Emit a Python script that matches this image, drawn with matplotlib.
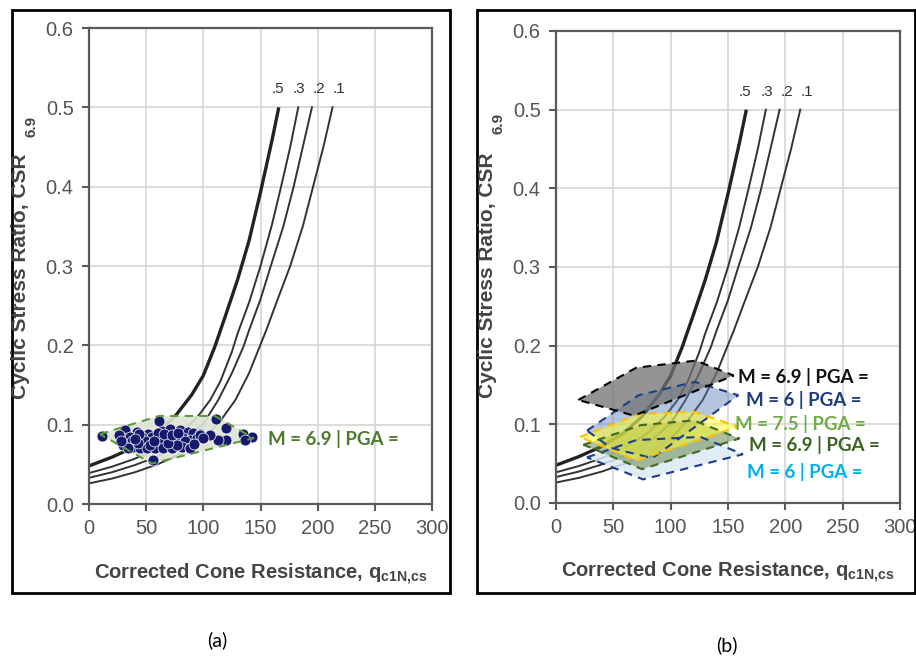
import matplotlib
matplotlib.use("Agg")
import matplotlib.pyplot as plt
from matplotlib.patches import Polygon, Rectangle

plt.rcParams['font.family'] = ['Liberation Sans', 'DejaVu Sans']
plt.rcParams['mathtext.fontset'] = 'custom'
plt.rcParams['mathtext.rm'] = 'Liberation Sans'
plt.rcParams['mathtext.bf'] = 'Liberation Sans:bold'

W, H = 916, 658

# ---------------- data ----------------
x_ticks = [0, 50, 100, 150, 200, 250, 300]
y_ticks = [0.0, 0.1, 0.2, 0.3, 0.4, 0.5, 0.6]
y_tick_labels = ['0.0', '0.1', '0.2', '0.3', '0.4', '0.5', '0.6']

curve_labels = ['.5', '.3', '.2', '.1']
q_p50 = [0, 20, 40, 60, 75, 90, 100, 110, 120, 130, 140, 150, 160, 166]
csr_p50 = [0.048, 0.059, 0.072, 0.090, 0.110, 0.138, 0.162, 0.198, 0.240, 0.283, 0.332, 0.393, 0.458, 0.500]
q_p30 = [0, 20, 40, 60, 80, 95, 106, 115, 125, 130, 140, 150, 160, 168, 176, 183]
csr_p30 = [0.039, 0.047, 0.057, 0.070, 0.089, 0.110, 0.131, 0.155, 0.192, 0.215, 0.254, 0.300, 0.352, 0.400, 0.450, 0.500]
q_p20 = [0, 20, 40, 60, 80, 100, 113, 125, 135, 140, 150, 159, 170, 179, 187, 195]
csr_p20 = [0.033, 0.040, 0.049, 0.060, 0.076, 0.101, 0.131, 0.165, 0.198, 0.219, 0.258, 0.300, 0.350, 0.400, 0.450, 0.500]
q_p10 = [0, 20, 40, 60, 80, 100, 115, 128, 140, 155, 165, 176, 187, 196, 205, 213]
csr_p10 = [0.026, 0.032, 0.040, 0.050, 0.063, 0.082, 0.105, 0.131, 0.165, 0.219, 0.258, 0.300, 0.350, 0.400, 0.450, 0.500]
curve_label_q = [165, 184, 201, 219]
curve_label_csr = 0.514

# scatter (panel a)
scatter_q = [31.5, 41.7, 51.9, 63.6, 70.9, 79.6, 86.9, 91.3, 97.1,
             30.0, 35.9, 46.1, 54.8, 60.7, 68.0, 75.3, 82.5, 88.4, 94.2, 37.3, 49.0, 62.1, 76.7, 84.0,
             30.0, 38.8, 44.6, 50.5, 57.7, 65.0, 72.3, 81.1, 88.4, 34.4, 76.7, 69.4, 53.4, 43.2,
             11.0, 61.0, 111.0, 120.0, 135.0, 143.0, 136.5, 120.0, 113.0, 106.0, 97.0, 88.0, 56.0,
             60.0, 66.0, 73.0, 78.0, 44.0, 26.0, 28.0, 100.0, 92.0, 57.0, 40.0]
scatter_csr = [0.093, 0.091, 0.088, 0.092, 0.095, 0.093, 0.091, 0.089, 0.088,
               0.083, 0.085, 0.085, 0.085, 0.083, 0.085, 0.083, 0.083, 0.081, 0.083, 0.079, 0.079, 0.079, 0.081, 0.079,
               0.074, 0.072, 0.070, 0.070, 0.070, 0.070, 0.071, 0.072, 0.070, 0.070, 0.074, 0.077, 0.075, 0.077,
               0.086, 0.105, 0.107, 0.096, 0.088, 0.084, 0.081, 0.081, 0.081, 0.087, 0.087, 0.070, 0.056,
               0.090, 0.088, 0.087, 0.089, 0.088, 0.087, 0.079, 0.083, 0.076, 0.080, 0.082]

poly_a_q = [9.6, 61, 110, 144, 55]
poly_a_csr = [0.088, 0.111, 0.111, 0.083, 0.051]
label_a = 'M = 6.9 | PGA ='

# polygons (panel b)
poly_gray_q = [19.5, 70, 122, 155, 68]
poly_gray_csr = [0.131, 0.172, 0.181, 0.162, 0.111]
poly_navy_q = [27, 72, 121, 159, 84, 48]
poly_navy_csr = [0.092, 0.137, 0.154, 0.137, 0.057, 0.070]
poly_yellow_q = [21, 73, 120, 159, 70]
poly_yellow_csr = [0.084, 0.113, 0.116, 0.097, 0.054]
poly_green_q = [24, 74, 120, 160, 75]
poly_green_csr = [0.074, 0.099, 0.105, 0.082, 0.043]
poly_lblue_q = [27, 70, 126, 163, 76]
poly_lblue_csr = [0.058, 0.080, 0.084, 0.062, 0.030]

labels_b = ['M = 6.9 | PGA =', 'M = 6 | PGA =', 'M = 7.5 | PGA =', 'M = 6.9 | PGA =', 'M = 6 | PGA =']
labels_b_q = [158.5, 165.5, 156, 168, 166.5]
labels_b_csr = [0.160, 0.131, 0.100, 0.074, 0.039]
labels_b_colors = ['#111111', '#1F3C80', '#70AD47', '#3E6424', '#00B0F0']

# ---------------- figure ----------------
fig = plt.figure(figsize=(W / 100, H / 100), dpi=100)


def fx(x):
    return x / W


def fy(y):
    return 1 - y / H


def make_axes(l, r, t, b):
    ax = fig.add_axes([fx(l), fy(b), fx(r) - fx(l), fy(t) - fy(b)])
    ax.set_xlim(0, 300)
    ax.set_ylim(0, 0.6)
    ax.set_xticks(x_ticks)
    ax.set_yticks(y_ticks)
    ax.set_yticklabels(y_tick_labels)
    ax.grid(True, color='#d2d2d2', linewidth=1.1)
    ax.set_axisbelow(True)
    for s in ax.spines.values():
        s.set_color('#5a5a5a')
        s.set_linewidth(1.6)
    ax.tick_params(axis='both', direction='out', length=5, width=1.5, color='#5a5a5a',
                   labelsize=14.5, labelcolor='#555555', pad=6)
    # curves
    ax.plot(q_p50, csr_p50, color='#222222', lw=2.4, zorder=2, solid_capstyle='butt')
    ax.plot(q_p30, csr_p30, color='#333333', lw=1.4, zorder=2)
    ax.plot(q_p20, csr_p20, color='#333333', lw=1.4, zorder=2)
    ax.plot(q_p10, csr_p10, color='#333333', lw=1.4, zorder=2)
    for lab, q in zip(curve_labels, curve_label_q):
        ax.text(q, curve_label_csr, lab, ha='center', va='bottom', fontsize=11, color='#333333')
    return ax


axA = make_axes(89, 432, 28, 504)
axB = make_axes(556, 900, 31, 503)

# panel a polygon + scatter
axA.add_patch(Polygon(list(zip(poly_a_q, poly_a_csr)), closed=True, facecolor='#dde4d3',
                      edgecolor='none', alpha=0.9, zorder=3))
axA.add_patch(Polygon(list(zip(poly_a_q, poly_a_csr)), closed=True, facecolor='none',
                      edgecolor='#5f9a3c', lw=1.5, linestyle=(0, (4, 3)), zorder=5))
axA.scatter(scatter_q, scatter_csr, s=62, color='#14196b', edgecolor='white', linewidth=0.5, zorder=4)
axA.text(156.5, 0.082, label_a, ha='left', va='center', fontsize=13.5, fontweight='bold',
         color='#4E7A2E', family=['Lato', 'DejaVu Sans'], zorder=6)

# panel b polygons
polys = [
    (poly_lblue_q, poly_lblue_csr, '#dce9f6', 0.85, '#1F3C88'),
    (poly_navy_q, poly_navy_csr, '#5d7fb9', 0.45, '#1F3C88'),
    (poly_green_q, poly_green_csr, '#6d8a4d', 0.55, '#3D6B21'),
    (poly_yellow_q, poly_yellow_csr, '#ffff30', 0.55, '#FFC000'),
    (poly_gray_q, poly_gray_csr, '#707070', 0.75, '#000000'),
]
for q, c, fc, a, ec in polys:
    axB.add_patch(Polygon(list(zip(q, c)), closed=True, facecolor=fc, edgecolor='none', alpha=a, zorder=3))
for q, c, fc, a, ec in polys:
    axB.add_patch(Polygon(list(zip(q, c)), closed=True, facecolor='none', edgecolor=ec, lw=1.5,
                          linestyle=(0, (4, 3)), zorder=5))
for lab, q, c, col in zip(labels_b, labels_b_q, labels_b_csr, labels_b_colors):
    axB.text(q, c, lab, ha='left', va='center', fontsize=13.5, fontweight='bold', color=col,
             family=['Lato', 'DejaVu Sans'], zorder=6, clip_on=False)

# axis labels
xlab = r'Corrected Cone Resistance, q$_{\mathbf{c1N{,}cs}}$'
fig.text(fx(261), fy(574), xlab, ha='center', va='center', fontsize=14.5, fontweight='bold', color='#444444')
fig.text(fx(728), fy(572), xlab, ha='center', va='center', fontsize=14.5, fontweight='bold', color='#444444')
fig.text(fx(21), fy(276), 'Cyclic Stress Ratio, CSR', rotation=90, ha='center', va='center',
         fontsize=15, fontweight='bold', color='#444444')
fig.text(fx(487), fy(275), 'Cyclic Stress Ratio, CSR', rotation=90, ha='center', va='center',
         fontsize=15, fontweight='bold', color='#444444')
fig.text(fx(31), fy(126), '6.9', rotation=90, ha='center', va='center', fontsize=11,
         fontweight='bold', color='#444444')
fig.text(fx(499), fy(123), '6.9', rotation=90, ha='center', va='center', fontsize=11,
         fontweight='bold', color='#444444')

# panel frames
fig.patches.append(Rectangle((fx(12), fy(593)), fx(450) - fx(12), fy(10) - fy(593), fill=False,
                             edgecolor='black', lw=2, transform=fig.transFigure, figure=fig))
fig.patches.append(Rectangle((fx(477), fy(593)), fx(915) - fx(477), fy(10) - fy(593), fill=False,
                             edgecolor='black', lw=2, transform=fig.transFigure, figure=fig))

# captions
fig.text(fx(217), fy(640), '(a)', ha='center', va='center', fontsize=14, family=['Lato', 'DejaVu Sans'])
fig.text(fx(727), fy(645), '(b)', ha='center', va='center', fontsize=14, family=['Lato', 'DejaVu Sans'])

fig.savefig('out.png', dpi=100)
